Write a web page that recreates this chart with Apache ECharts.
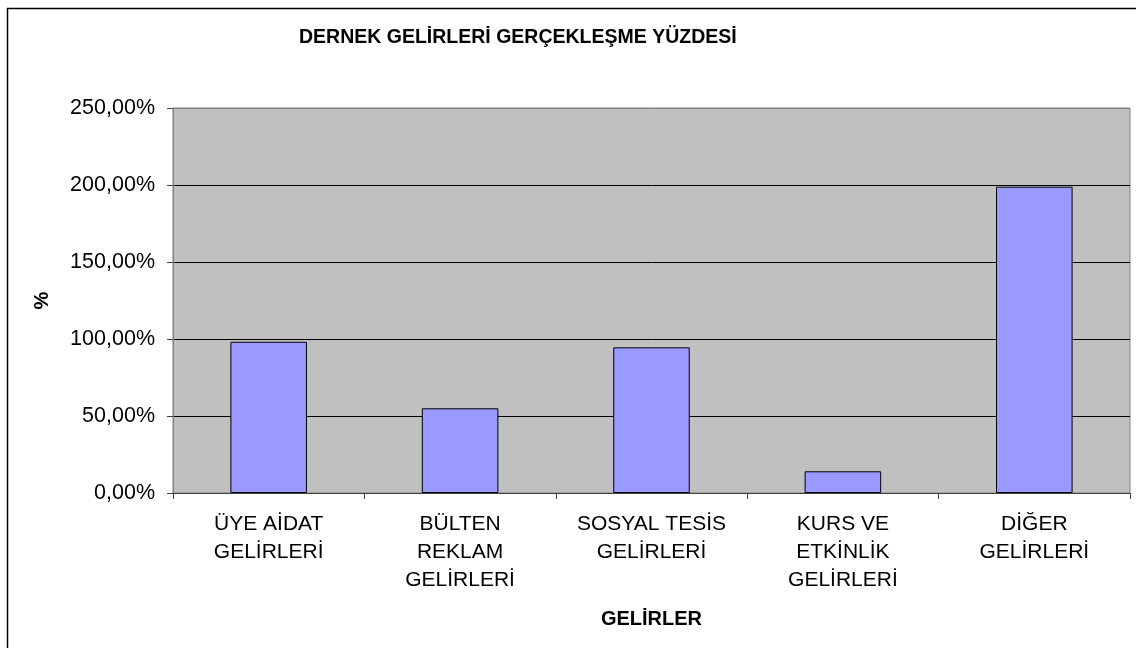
<!DOCTYPE html>
<html>
<head>
<meta charset="utf-8">
<script src="https://cdn.jsdelivr.net/npm/echarts@6/dist/echarts.min.js"></script>
<style>
  html, body { margin: 0; padding: 0; background: #fff; }
  #chart { width: 1136px; height: 648px; }
</style>
</head>
<body>
<div id="chart"></div>
<script>
var categories = [
  'ÜYE AİDAT\nGELİRLERİ',
  'BÜLTEN\nREKLAM\nGELİRLERİ',
  'SOSYAL TESİS\nGELİRLERİ',
  'KURS VE\nETKİNLİK\nGELİRLERİ',
  'DİĞER\nGELİRLERİ'
];
var percentValues = [98.2, 55.0, 94.6, 14.1, 198.9];
var chartTitle = 'DERNEK GELİRLERİ GERÇEKLEŞME YÜZDESİ';

var font = '"Liberation Sans", Arial, sans-serif';
var myChart = echarts.init(document.getElementById('chart'));

var option = {
  animation: false,
  textStyle: { fontFamily: font },
  title: {
    text: chartTitle,
    left: 294,
    top: 23,
    textStyle: { fontSize: 19.5, fontWeight: 'bold', color: '#000', fontFamily: font }
  },
  graphic: [{
    type: 'rect',
    shape: { x: 7.5, y: 8.5, width: 1200, height: 700 },
    style: { fill: 'none', stroke: '#000', lineWidth: 1.5 },
    silent: true
  }],
  grid: {
    left: 173,
    right: 6,
    top: 108,
    bottom: 155,
    show: true,
    backgroundColor: '#c0c0c0',
    borderColor: '#808080',
    borderWidth: 1
  },
  xAxis: {
    type: 'category',
    data: categories,
    name: 'GELİRLER',
    nameLocation: 'middle',
    nameGap: 116,
    nameTextStyle: { fontSize: 20, fontWeight: 'bold', color: '#000' },
    axisLine: { lineStyle: { color: '#404040', width: 1 } },
    axisTick: { show: true, length: 6, lineStyle: { color: '#404040' } },
    axisLabel: {
      interval: 0,
      margin: 17,
      fontSize: 21,
      lineHeight: 28,
      color: '#000'
    }
  },
  yAxis: {
    type: 'value',
    min: 0,
    max: 250,
    interval: 50,
    name: '%',
    nameLocation: 'middle',
    nameRotate: 90,
    nameGap: 121,
    nameTextStyle: { fontSize: 20, fontWeight: 'bold', color: '#000' },
    axisLine: { show: true, lineStyle: { color: '#808080' } },
    axisTick: { show: true, length: 6, lineStyle: { color: '#404040' } },
    axisLabel: {
      margin: 18,
      fontSize: 21.5,
      color: '#000',
      formatter: function (v) {
        return v.toFixed(2).replace('.', ',') + '%';
      }
    },
    splitLine: {
      show: true,
      lineStyle: { color: ['#000', '#000', '#000', '#000', '#000', '#808080'], width: 1 }
    }
  },
  series: [{
    type: 'bar',
    data: percentValues,
    barCategoryGap: '60%',
    itemStyle: { color: '#9999ff', borderColor: '#000', borderWidth: 1 }
  }]
};

myChart.setOption(option);
</script>
</body>
</html>
